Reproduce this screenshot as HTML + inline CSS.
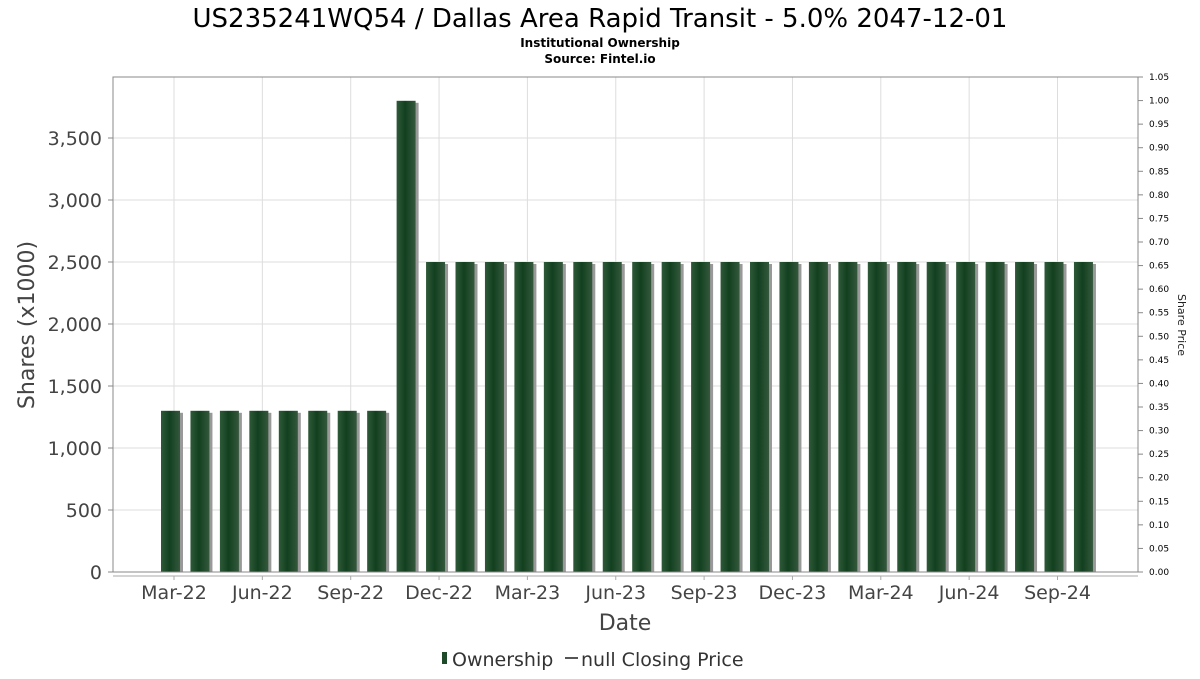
<!DOCTYPE html>
<html><head><meta charset="utf-8"><style>
body{margin:0;background:#fff;font-family:"DejaVu Sans","Liberation Sans",sans-serif;}
</style></head><body>
<svg width="1200" height="675" xmlns="http://www.w3.org/2000/svg">
<defs>
<linearGradient id="bg" x1="0" x2="1" y1="0" y2="0">
<stop offset="0" stop-color="#2f5a3a"/><stop offset="0.45" stop-color="#12401f"/><stop offset="1" stop-color="#35583d"/>
</linearGradient>
</defs>
<text x="600" y="27" text-anchor="middle" font-size="26" fill="#000">US235241WQ54 / Dallas Area Rapid Transit - 5.0% 2047-12-01</text>
<text x="600" y="47" text-anchor="middle" font-size="12" font-weight="bold">Institutional Ownership</text>
<text x="600" y="63" text-anchor="middle" font-size="12" font-weight="bold">Source: Fintel.io</text>
<g id="grid"></g>
<g id="bars"></g>
<rect x="113" y="77" width="1025" height="495" fill="none" stroke="#888"/>
<line x1="113" y1="576" x2="1138" y2="576" stroke="#aaa"/>
<g id="yl"></g>
<g id="yr"></g>
<g id="xl"></g>
<text transform="translate(34,325) rotate(-90)" text-anchor="middle" font-size="22" fill="#444">Shares (x1000)</text>
<text transform="translate(1178,325) rotate(90)" text-anchor="middle" font-size="11" fill="#222">Share Price</text>
<text x="625" y="630" text-anchor="middle" font-size="22" fill="#444">Date</text>
<g>
<rect x="442" y="652" width="5" height="12" fill="#1f4a2a"/>
<text x="452" y="666" font-size="19" fill="#333">Ownership</text>
<line x1="565" y1="658" x2="578" y2="658" stroke="#555" stroke-width="2"/>
<text x="581" y="666" font-size="19" fill="#333">null Closing Price</text>
</g>
</svg>
<script>
const values=[1300,1300,1300,1300,1300,1300,1300,1300,3800,2500,2500,2500,2500,2500,2500,2500,2500,2500,2500,2500,2500,2500,2500,2500,2500,2500,2500,2500,2500,2500,2500,2500];
const xLabels=["Mar-22","Jun-22","Sep-22","Dec-22","Mar-23","Jun-23","Sep-23","Dec-23","Mar-24","Jun-24","Sep-24"];
const leftTicks=[0,500,1000,1500,2000,2500,3000,3500];
const rightTicks=[0,0.05,0.1,0.15,0.2,0.25,0.3,0.35,0.4,0.45,0.5,0.55,0.6,0.65,0.7,0.75,0.8,0.85,0.9,0.95,1.0,1.05];
const NS="http://www.w3.org/2000/svg";
const y=v=>572-v*(434/3500);
const yr=v=>572-v*(495/1.05);
const x=i=>170.5+i*29.45;
function mk(t,a,p){const e=document.createElementNS(NS,t);for(const k in a)e.setAttribute(k,a[k]);p.appendChild(e);return e;}
const grid=document.getElementById('grid'),bars=document.getElementById('bars'),yl=document.getElementById('yl'),yrg=document.getElementById('yr'),xl=document.getElementById('xl');
leftTicks.forEach(v=>{
 const g=mk('line',{x1:113,x2:1138,y1:y(v),y2:y(v),stroke:'#ddd'},grid);
 
 
 const t=mk('text',{x:102,y:y(v)+7,'text-anchor':'end','font-size':19,fill:'#444'},yl);
 t.textContent=v.toLocaleString('en-US');
 
 
 mk('line',{x1:108,x2:113,y1:y(v),y2:y(v),stroke:'#888'},yl);
});
rightTicks.forEach(v=>{
 mk('line',{x1:1138,x2:1143,y1:yr(v),y2:yr(v),stroke:'#888'},yrg);
 const t=mk('text',{x:1149,y:yr(v)+3,'font-size':9,fill:'#000'},yrg);
 t.textContent=v.toFixed(2);
 
 
});
xLabels.forEach((l,k)=>{
 const xx=x(k*3)+3.5;
 const g=mk('line',{x1:xx,x2:xx,y1:77,y2:572,stroke:'#ddd'},grid);
 
 
 mk('line',{x1:xx,x2:xx,y1:576,y2:580,stroke:'#aaa'},xl);
 const t=mk('text',{x:xx,y:599,'text-anchor':'middle','font-size':19,fill:'#444'},xl);
 t.textContent=l;
 
 
});
values.forEach((v,i)=>{
 const s=mk('rect',{x:x(i)-9.5+3,y:y(v)+2,width:19,height:572-y(v)-2,fill:'#999'},bars);
 
 
 const b=mk('rect',{x:x(i)-9.5,y:y(v),width:19,height:572-y(v),fill:'url(#bg)'},bars);
 
 
});
</script>
</body></html>
